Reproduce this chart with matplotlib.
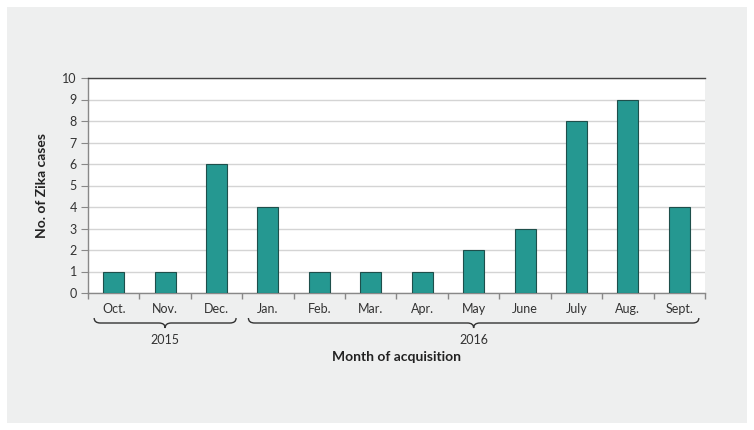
import matplotlib.pyplot as plt
import numpy as np
from matplotlib.patches import Rectangle, PathPatch
from matplotlib.path import Path
from matplotlib.transforms import blended_transform_factory

plt.rcParams['font.family'] = ['Lato', 'DejaVu Sans']

months = ["Oct.", "Nov.", "Dec.", "Jan.", "Feb.", "Mar.", "Apr.", "May", "June", "July", "Aug.", "Sept."]
cases = [1, 1, 6, 4, 1, 1, 1, 2, 3, 8, 9, 4]
years = ["2015", "2016"]
year_spans = [(0, 2), (3, 11)]

fig = plt.figure(figsize=(7.54, 4.30), dpi=100)
fig.patch.set_facecolor("white")
# gray panel behind everything
fig.patches.append(Rectangle((7 / 754, 7 / 430), 740 / 754, 416 / 430, transform=fig.transFigure,
                             facecolor="#eeefef", edgecolor="none", zorder=-10))

ax = fig.add_axes([88 / 754, 1 - 293 / 430, 617 / 754, 215 / 430])
x = np.arange(len(months))
ax.bar(x, cases, width=0.41, color="#259891", edgecolor="#1e4f4b", linewidth=0.8, zorder=3)

ax.set_xlim(-0.5, len(months) - 0.5)
ax.set_ylim(0, 10)
ax.set_yticks(range(0, 11))
ax.yaxis.grid(True, color="#d4d4d4", linewidth=1)
ax.set_axisbelow(True)

# month names at bar centres, tick marks between months
ax.set_xticks(x)
ax.set_xticklabels(months, fontsize=9, color="#333333")
ax.tick_params(axis="x", which="major", length=0, pad=7)
ax.set_xticks(np.arange(-0.5, len(months)), minor=True)
ax.tick_params(axis="x", which="minor", length=4, color="#888888", width=1)
ax.tick_params(axis="y", length=5, color="#888888", labelsize=9, labelcolor="#333333", pad=3)

ax.spines["right"].set_visible(False)
ax.spines["top"].set_color("#444444")
ax.spines["left"].set_color("#888888")
ax.spines["bottom"].set_color("#888888")
for s in ["top", "left", "bottom"]:
    ax.spines[s].set_linewidth(1)

ax.set_ylabel("No. of Zika cases", fontsize=10, fontweight="bold", color="#222222", labelpad=10)

# braces grouping the months by year
tr = blended_transform_factory(ax.transData, fig.transFigure)
y_top = 1 - 318 / 430
y_bot = 1 - 323 / 430
y_tip = 1 - 328 / 430
for (a, b), yr in zip(year_spans, years):
    x0, x1 = a - 0.38, b + 0.38
    xm = (x0 + x1) / 2
    r = 0.12
    verts = [(x0, y_top), (x0, y_bot), (x0 + r, y_bot),
             (xm - r, y_bot), (xm, y_bot), (xm, y_tip),
             (xm, y_bot), (xm + r, y_bot),
             (x1 - r, y_bot), (x1, y_bot), (x1, y_top)]
    codes = [Path.MOVETO, Path.CURVE3, Path.CURVE3,
             Path.LINETO, Path.CURVE3, Path.CURVE3,
             Path.CURVE3, Path.CURVE3,
             Path.LINETO, Path.CURVE3, Path.CURVE3]
    fig.patches.append(PathPatch(Path(verts, codes), transform=tr, facecolor="none",
                                 edgecolor="#333333", linewidth=1, clip_on=False))
    ax.text(xm, 1 - 340 / 430, yr, transform=tr, ha="center", va="center",
            fontsize=9, color="#333333", clip_on=False)

fig.text((88 + 705) / 2 / 754, 1 - 357 / 430, "Month of acquisition", ha="center", va="center",
         fontsize=10, fontweight="bold", color="#222222")

fig.savefig("out.png", dpi=100)
